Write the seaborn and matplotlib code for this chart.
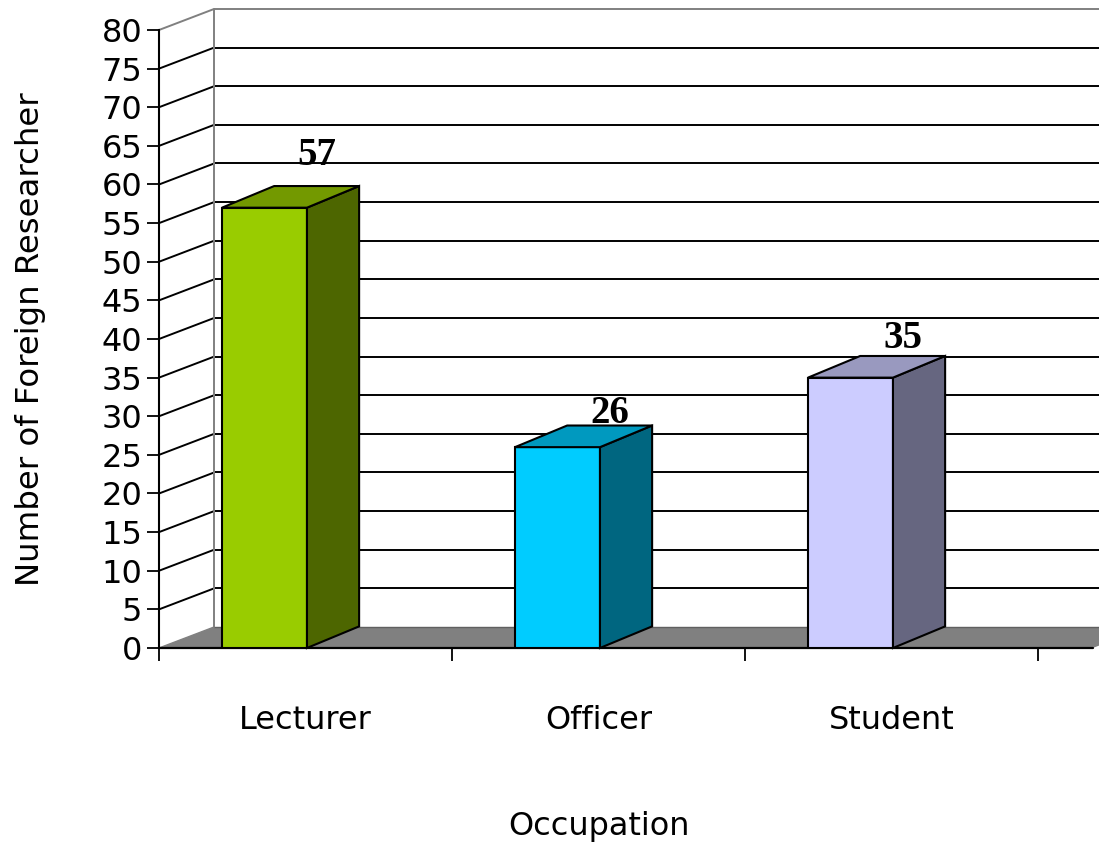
import matplotlib
matplotlib.use("Agg")
import matplotlib.pyplot as plt
from matplotlib.patches import Polygon
from matplotlib.colors import to_rgb
import seaborn as sns
import pandas as pd

# Data
occupations = ["Lecturer", "Officer", "Student"]
researchers = [57, 26, 35]
front_colors = ["#99CC00", "#00CCFF", "#CCCCFF"]
y_ticks = list(range(0, 85, 5))

sns.set_style("white")
plt.rcParams["font.family"] = ["DejaVu Sans"]
plt.rcParams["text.color"] = "black"
plt.rcParams["axes.labelcolor"] = "black"
plt.rcParams["xtick.color"] = "black"
plt.rcParams["ytick.color"] = "black"

fig = plt.figure(figsize=(10.99, 8.49), dpi=100)
ax = fig.add_axes([0.14468, 0.23675, 0.79982, 0.72792])

df = pd.DataFrame({"Occupation": occupations, "Count": researchers})

# 3-D look: depth offsets (data units) for the walls and for the bar boxes
wall_dx, wall_dy = 0.188, 2.72
bar_dx, bar_dy = 0.178, 2.8
bar_w = 0.29
x_left, x_right = -0.36, 2.64
floor_right = 2.827

def shade(c, f):
    r, g, b = to_rgb(c)
    return (r * f, g * f, b * f)

# Floor slab
ax.add_patch(Polygon([(x_left, 0), (floor_right, 0),
                      (floor_right + wall_dx, wall_dy), (x_left + wall_dx, wall_dy)],
                     closed=True, facecolor="#808080", edgecolor="none",
                     clip_on=False, zorder=1))

# Gridlines on the side wall and back wall
for v in y_ticks:
    if v == 0:
        continue
    col = "#808080" if v == y_ticks[-1] else "black"
    ax.plot([x_left, x_left + wall_dx], [v, v + wall_dy], color=col, lw=1.4,
            clip_on=False, zorder=1.5, solid_capstyle="butt")
    ax.plot([x_left + wall_dx, 3.2], [v + wall_dy, v + wall_dy], color=col, lw=1.4,
            clip_on=False, zorder=1.5, solid_capstyle="butt")
ax.plot([x_left, x_left + wall_dx], [0, wall_dy], color="#808080", lw=1.0,
        clip_on=False, zorder=1.5)
ax.plot([x_left + wall_dx, 3.2], [wall_dy, wall_dy], color="#606060", lw=1.0,
        clip_on=False, zorder=1.5)
ax.plot([x_left + wall_dx, x_left + wall_dx], [wall_dy, y_ticks[-1] + wall_dy],
        color="#808080", lw=1.4, clip_on=False, zorder=1.5)
ax.plot([x_left, floor_right], [0, 0], color="black", lw=1.6,
        clip_on=False, zorder=2)

# Front faces of the bars
sns.barplot(data=df, x="Occupation", y="Count", hue="Occupation",
            palette=front_colors, saturation=1, width=bar_w, edgecolor="black",
            linewidth=1.5, legend=False, ax=ax, zorder=3)

# Top and side faces of each bar
for i, (v, c) in enumerate(zip(researchers, front_colors)):
    l, r = i - bar_w / 2, i + bar_w / 2
    top = Polygon([(l, v), (r, v), (r + bar_dx, v + bar_dy), (l + bar_dx, v + bar_dy)],
                  closed=True, facecolor=shade(c, 0.75), edgecolor="black",
                  linewidth=1.5, zorder=3, clip_on=False)
    side = Polygon([(r, 0), (r + bar_dx, bar_dy), (r + bar_dx, v + bar_dy), (r, v)],
                   closed=True, facecolor=shade(c, 0.5), edgecolor="black",
                   linewidth=1.5, zorder=3, clip_on=False)
    ax.add_patch(side)
    ax.add_patch(top)
    # value label above the box (perspective lifts taller bars' labels slightly)
    ax.text(i + bar_dx, v + 1 + 0.08 * v, str(v), ha="center", va="baseline",
            fontsize=28, fontweight="bold", family="Liberation Serif",
            color="black", zorder=5, clip_on=False)

# Axes
ax.set_xlim(x_left, x_right)
ax.set_ylim(0, 80)
ax.set_yticks(y_ticks)
ax.set_yticklabels([str(t) for t in y_ticks])
ax.set_xticks([x_left, x_left + 1, x_left + 2, x_left + 3])
ax.set_xticklabels([])
ax.set_xticks([i + 0.14 for i in range(len(occupations))], minor=True)
ax.set_xticklabels(occupations, minor=True)
ax.tick_params(axis="x", which="major", direction="out", length=9.5, width=1.3,
               color="black", bottom=True)
ax.tick_params(axis="x", which="minor", length=0, pad=41, labelsize=23)
ax.tick_params(axis="y", direction="out", length=8.6, width=1.3, color="black",
               pad=3.5, labelsize=23, left=True)

for s in ["top", "right", "bottom"]:
    ax.spines[s].set_visible(False)
ax.spines["left"].set_color("black")
ax.spines["left"].set_linewidth(1.5)
ax.spines["left"].set_zorder(2)

ax.set_xlabel("Occupation", fontsize=23, labelpad=54)
ax.set_ylabel("Number of Foreign Researcher", fontsize=23.3, labelpad=40)
ax.patch.set_alpha(0)

fig.savefig("out.png", dpi=100)
